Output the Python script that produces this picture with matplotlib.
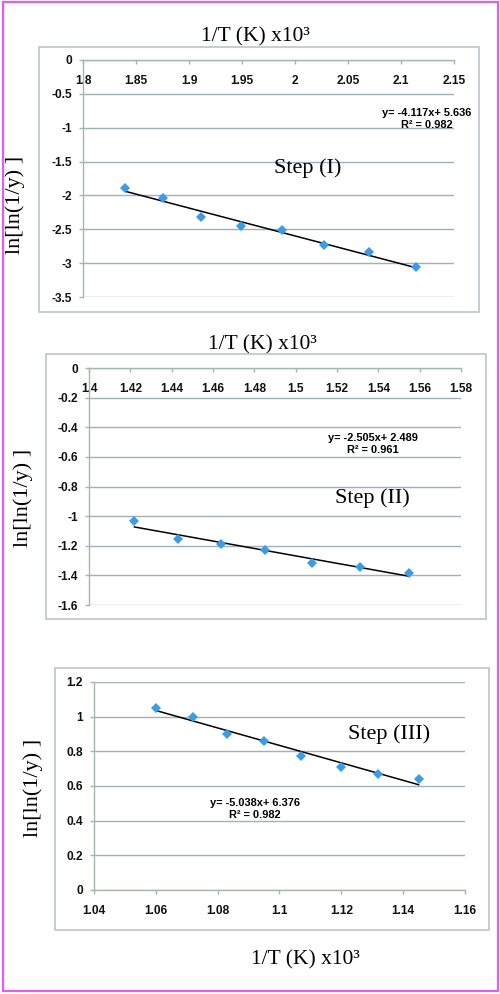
import matplotlib.pyplot as plt
import matplotlib.ticker as mticker
import numpy as np
from matplotlib.patches import Rectangle

plt.rcParams['axes.unicode_minus'] = False
plt.rcParams['font.family'] = 'Liberation Sans'
plt.rcParams['font.weight'] = 'bold'

# -----------------------------
# DATA
# -----------------------------
x1 = [1.840, 1.875, 1.911, 1.949, 1.988, 2.027, 2.070, 2.114]
y1 = [-1.89, -2.04, -2.32, -2.45, -2.51, -2.73, -2.84, -3.06]
fit1 = (-4.117, 5.636, 0.982)

x2 = [1.422, 1.443, 1.464, 1.485, 1.508, 1.531, 1.555]
y2 = [-1.035, -1.154, -1.186, -1.229, -1.316, -1.341, -1.386]
fit2 = (-2.505, 2.489, 0.961)

x3 = [1.060, 1.072, 1.083, 1.095, 1.107, 1.120, 1.132, 1.145]
y3 = [1.048, 0.996, 0.898, 0.857, 0.774, 0.709, 0.668, 0.638]
fit3 = (-5.038, 6.376, 0.982)

xticks1 = np.arange(1.8, 2.151, 0.05)
yticks1 = np.arange(-3.5, 0.01, 0.5)
xticks2 = np.arange(1.4, 1.581, 0.02)
yticks2 = np.arange(-1.6, 0.01, 0.2)
xticks3 = np.arange(1.04, 1.161, 0.02)
yticks3 = np.arange(0, 1.21, 0.2)

steps = ["Step (I)", "Step (II)", "Step (III)"]
xlab = "1/T (K) x10³"
ylab = "ln[ln(1/y) ]"

# -----------------------------
# FIGURE
# -----------------------------
W, H = 500, 994
fig = plt.figure(figsize=(W / 100, H / 100), dpi=100)

def px_axes(l, r, t, b):
    return fig.add_axes([l / W, 1 - b / H, (r - l) / W, (b - t) / H])

def px_box(l, r, t, b, color, lw):
    fig.patches.append(Rectangle((l / W, 1 - b / H), (r - l) / W, (b - t) / H,
                                 transform=fig.transFigure, fill=False,
                                 edgecolor=color, linewidth=lw))

# magenta frame and light panel boxes
px_box(3, 498, 2, 991, '#e15ff0', 1.6)
px_box(39, 479, 47, 312, '#b9c5cb', 1.2)
px_box(46, 486, 354, 619, '#b9c5cb', 1.2)
px_box(55, 489, 668, 930, '#b9c5cb', 1.2)

serif = 'Liberation Serif'

def fmt_tick(v, pos):
    v = round(v, 3) + 0.0
    return f"{v:g}"

panels = [
    (px_axes(83, 454, 60, 297), x1, y1, fit1, xticks1, yticks1, True,
     (0.464, 1.097), (-0.183, 0.388), (0.927, 0.749), (0.606, 0.544)),
    (px_axes(89, 461, 368, 605), x2, y2, fit2, xticks2, yticks2, True,
     (0.465, 1.097), (-0.177, 0.453), (0.763, 0.678), (0.761, 0.453)),
    (px_axes(94, 465, 682, 890), x3, y3, fit3, xticks3, yticks3, False,
     (0.571, -0.337), (-0.164, 0.491), (0.434, 0.388), (0.795, 0.751)),
]

for i, (ax, xs, ys, fit, xt, yt, top, xl_pos, yl_pos, eq_pos, st_pos) in enumerate(panels):
    slope, inter, r2 = fit
    ax.set_xlim(xt[0], xt[-1])
    ax.set_ylim(yt[0], yt[-1])
    ax.set_xticks(xt)
    ax.set_yticks(yt)
    ax.xaxis.set_major_formatter(mticker.FuncFormatter(fmt_tick))
    ax.yaxis.set_major_formatter(mticker.FuncFormatter(fmt_tick))

    # Excel-like axes: x axis crosses at y = 0
    for s in ['top', 'right']:
        ax.spines[s].set_visible(False)
    ax.spines['bottom'].set_position(('data', 0))
    for s in ['left', 'bottom']:
        ax.spines[s].set_color('#a3b9ab')
        ax.spines[s].set_linewidth(1.0)
    ax.tick_params(axis='both', direction='out', length=3, color='#a3b9ab',
                   width=1.0, labelsize=8.6, labelcolor='#111111')
    ax.tick_params(axis='y', pad=5)
    ax.tick_params(axis='x', pad=8)

    ax.grid(axis='y', color='#9fb0bd', linewidth=1.0)
    ax.set_axisbelow(True)
    ax.patch.set_alpha(0)

    # fitted line and points
    xx = np.array([min(xs), max(xs)])
    ax.plot(xx, slope * xx + inter, color='black', linewidth=1.1, zorder=3)
    ax.plot(xs, ys, linestyle='none', marker='D', markersize=5.5,
            color='#3a9be6', markeredgewidth=0, zorder=4, clip_on=False)

    ax.set_xlabel(xlab, family=serif, weight='normal', fontsize=15.5,
                  va='center', ha='center')
    ax.xaxis.set_label_coords(*xl_pos)
    ax.set_ylabel(ylab, family=serif, weight='normal', fontsize=16,
                  va='center', ha='center')
    ax.yaxis.set_label_coords(*yl_pos)

    ax.text(*eq_pos, f"y= {slope:.3f}x+ {inter:.3f}\nR² = {r2:.3f}",
            transform=ax.transAxes, ha='center', va='center',
            fontsize=7.9, linespacing=1.25)
    ax.text(*st_pos, steps[i], transform=ax.transAxes, ha='center',
            va='center', family=serif, weight='normal', fontsize=16)

fig.savefig('out.png', dpi=100)
